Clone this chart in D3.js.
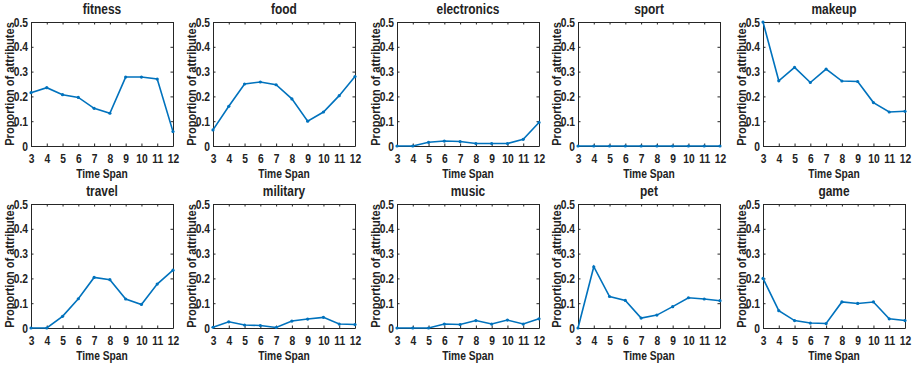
<!DOCTYPE html>
<html>
<head>
  <script src="https://d3js.org/d3.v7.min.js"></script>
  <style>
    body { margin: 0; background: #fff; }
    text { font-family: "Liberation Sans", Arial, sans-serif; font-weight: bold; fill: #222; }
    .domain { stroke: #262626; }
  </style>
</head>
<body>
  <script>
    const width = 917;
    const height = 369;

    // time span categories and y ticks
    const timeSpan = [3, 4, 5, 6, 7, 8, 9, 10, 11, 12];
    const yTicks = [0, 0.1, 0.2, 0.3, 0.4, 0.5];
    const categories = ["fitness", "food", "electronics", "sport", "makeup",
                        "travel", "military", "music", "pet", "game"];

    // proportion of attributes per category
    const fitness     = [0.215, 0.235, 0.207, 0.196, 0.152, 0.132, 0.278, 0.278, 0.270, 0.058];
    const food        = [0.065, 0.160, 0.250, 0.258, 0.247, 0.190, 0.100, 0.137, 0.203, 0.280];
    const electronics = [0.000, 0.000, 0.015, 0.020, 0.018, 0.010, 0.010, 0.010, 0.027, 0.095];
    const sport       = [0, 0, 0, 0, 0, 0, 0, 0, 0, 0];
    const makeup      = [0.500, 0.263, 0.317, 0.256, 0.310, 0.262, 0.260, 0.175, 0.137, 0.140];
    const travel      = [0.000, 0.000, 0.047, 0.118, 0.204, 0.195, 0.117, 0.095, 0.177, 0.233];
    const military    = [0.003, 0.025, 0.012, 0.010, 0.002, 0.028, 0.036, 0.043, 0.016, 0.014];
    const music       = [0.000, 0.000, 0.000, 0.016, 0.014, 0.030, 0.016, 0.032, 0.016, 0.037];
    const pet         = [0.000, 0.247, 0.127, 0.111, 0.040, 0.052, 0.086, 0.122, 0.117, 0.110];
    const game        = [0.200, 0.070, 0.030, 0.020, 0.018, 0.105, 0.099, 0.105, 0.037, 0.030];

    const seriesList = [fitness, food, electronics, sport, makeup,
                        travel, military, music, pet, game];

    const colLeft = [31, 213, 397, 578, 763];
    const rowTop = [22, 204];
    const pw = 142, ph = 124;
    const blue = "#0072BD";

    const svg = d3.select("body").append("svg")
      .attr("width", width)
      .attr("height", height);

    const x = d3.scaleLinear().domain([3, 12]).range([0, pw]);
    const y = d3.scaleLinear().domain([0, 0.5]).range([ph, 0]);

    categories.forEach(function (name, i) {
      const g = svg.append("g")
        .attr("transform", "translate(" + colLeft[i % 5] + "," + rowTop[Math.floor(i / 5)] + ")");

      // bottom / left axes with inward ticks
      g.append("g").attr("transform", "translate(0," + ph + ")")
        .call(d3.axisBottom(x).tickValues(timeSpan).tickSize(-2.5).tickSizeOuter(0).tickPadding(7.5))
        .call(s => s.selectAll("text").attr("font-size", 12.5).attr("dy", "0.75em"));
      g.append("g")
        .call(d3.axisLeft(y).tickValues(yTicks).tickFormat(d3.format("~g")).tickSize(-2.5).tickSizeOuter(0).tickPadding(3))
        .call(s => s.selectAll("text").attr("font-size", 12.5));
      // top / right axes, ticks only
      g.append("g")
        .call(d3.axisTop(x).tickValues(timeSpan).tickSize(-2.5).tickSizeOuter(0).tickFormat(""));
      g.append("g").attr("transform", "translate(" + pw + ",0)")
        .call(d3.axisRight(y).tickValues(yTicks).tickSize(-2.5).tickSizeOuter(0).tickFormat(""));
      g.selectAll(".tick line").attr("stroke", "#262626");

      g.append("text")
        .attr("x", pw / 2).attr("y", -8)
        .attr("text-anchor", "middle")
        .attr("font-size", 14.5)
        .text(name);

      g.append("text")
        .attr("x", pw / 2).attr("y", ph + 31.5)
        .attr("text-anchor", "middle")
        .attr("font-size", 12.5)
        .text("Time Span");

      g.append("text")
        .attr("transform", "translate(-17.5," + (ph / 2) + ") rotate(-90)")
        .attr("text-anchor", "middle")
        .attr("font-size", 13.5)
        .text("Proportion of attributes");

      const data = seriesList[i].map((v, k) => [timeSpan[k], v]);
      g.append("path")
        .datum(data)
        .attr("fill", "none")
        .attr("stroke", blue)
        .attr("stroke-width", 1.6)
        .attr("d", d3.line().x(d => x(d[0])).y(d => y(d[1])));
      g.selectAll("circle").data(data).enter().append("circle")
        .attr("cx", d => x(d[0]))
        .attr("cy", d => y(d[1]))
        .attr("r", 1.6)
        .attr("fill", blue);
    });

    // squeeze every label to a condensed look like the original figure
    svg.selectAll("text").each(function () {
      const len = this.getComputedTextLength();
      if (len > 0) {
        d3.select(this)
          .attr("textLength", len * 0.82)
          .attr("lengthAdjust", "spacingAndGlyphs");
      }
    });
  </script>
</body>
</html>
